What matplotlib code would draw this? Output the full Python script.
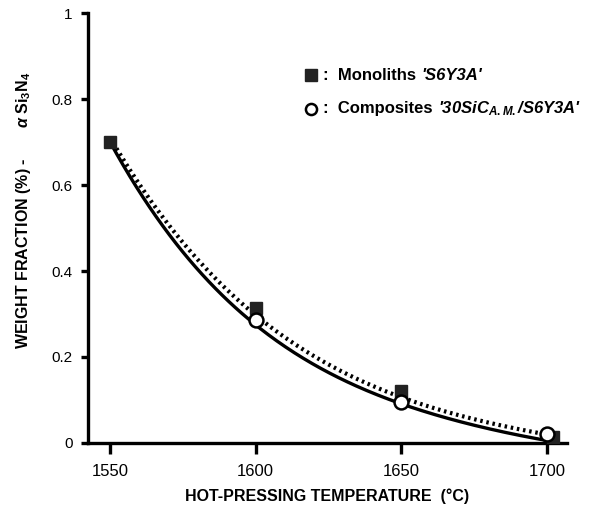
import numpy as np
import matplotlib
matplotlib.use("Agg")
import matplotlib.pyplot as plt

plt.rcParams['font.family'] = ['Liberation Sans', 'DejaVu Sans']
plt.rcParams['mathtext.fontset'] = 'custom'
plt.rcParams['mathtext.rm'] = 'Liberation Sans:bold'
plt.rcParams['mathtext.it'] = 'Liberation Sans:bold:italic'
plt.rcParams['mathtext.bf'] = 'Liberation Sans:bold'

# data
tempMono = [1550, 1600, 1650, 1702]
fracMono = [0.70, 0.315, 0.12, 0.015]
tempComp = [1550, 1600, 1650, 1700]
fracComp = [0.70, 0.286, 0.095, 0.02]

# trend lines as drawn in the figure (solid / dotted)
tempCurve = [1550, 1575, 1600, 1625, 1650, 1675, 1700]
fracSolid = [0.70, 0.445, 0.274, 0.163, 0.093, 0.040, 0.006]
fracDotted = [0.71, 0.468, 0.295, 0.183, 0.108, 0.054, 0.020]

xTicks = [1550, 1600, 1650, 1700]
yTicks = [0, 0.2, 0.4, 0.6, 0.8, 1]
yTickLabels = ['0', '0.2', '0.4', '0.6', '0.8', '1']


def smoothCurve(x, y, deg=4):
    coef = np.polyfit(x, y, deg)
    xs = np.linspace(x[0], x[-1], 200)
    return xs, np.polyval(coef, xs)


fig = plt.figure(figsize=(6.02, 5.13), dpi=100)
ax = fig.add_axes([0.146, 0.1365, 0.796, 0.838])

xs, ys = smoothCurve(tempCurve, fracSolid)
ax.plot(xs, ys, color='black', linewidth=2.4, zorder=2)
xs, ys = smoothCurve(tempCurve, fracDotted)
ax.plot(xs, ys, color='black', linewidth=3.0, linestyle=(0, (0.6, 0.9)),
        dash_capstyle='butt', zorder=2)

ax.plot(tempMono, fracMono, 's', color='#222222', markersize=9, zorder=3)
ax.plot(tempComp[1:], fracComp[1:], 'o', markerfacecolor='white', markeredgecolor='black',
        markeredgewidth=1.8, markersize=10, zorder=4)

ax.set_xlim(1542.4, 1706.9)
ax.set_ylim(0, 1)
ax.set_xticks(xTicks)
ax.set_yticks(yTicks)
ax.set_yticklabels(yTickLabels)
ax.tick_params(axis='both', direction='out', width=2.4, labelsize=11)
ax.tick_params(axis='x', length=8, pad=7, labelsize=12)
ax.tick_params(axis='y', length=5, pad=6)
for s in ['top', 'right']:
    ax.spines[s].set_visible(False)
for s in ['left', 'bottom']:
    ax.spines[s].set_linewidth(2.4)

ax.set_xlabel('HOT-PRESSING TEMPERATURE  (°C)', fontsize=11.5, fontweight='bold', labelpad=7)
ax.set_ylabel(r'WEIGHT FRACTION (%) -       $\alpha$ Si$_3$N$_4$', fontsize=11.5,
              fontweight='bold')
ax.yaxis.set_label_coords(-0.115, 0.542)

# legend drawn by hand
ax.plot([0.465], [0.855], 's', color='#222222', markersize=9, transform=ax.transAxes)
ax.text(0.49, 0.855, ":  Monoliths", transform=ax.transAxes, fontsize=12,
        fontweight='bold', va='center')
ax.text(0.695, 0.855, "'S6Y3A'", transform=ax.transAxes, fontsize=12,
        fontweight='bold', style='italic', va='center')
ax.plot([0.465], [0.778], 'o', markerfacecolor='white', markeredgecolor='black',
        markeredgewidth=1.8, markersize=8, transform=ax.transAxes)
ax.text(0.49, 0.778, ":  Composites", transform=ax.transAxes, fontsize=12,
        fontweight='bold', va='center')
ax.text(0.73, 0.778, r"'30SiC$_{A.M.}$/S6Y3A'", transform=ax.transAxes, fontsize=12,
        fontweight='bold', style='italic', va='center')

fig.savefig('out.png', dpi=100)
